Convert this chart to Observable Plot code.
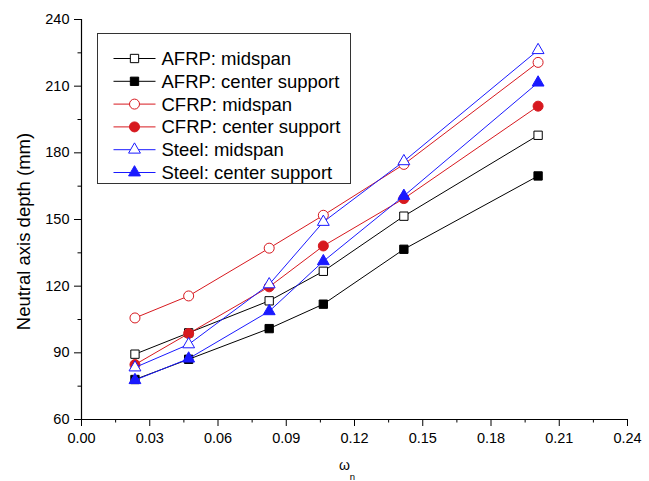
<!DOCTYPE html>
<html><head><meta charset="utf-8">
<script src="https://cdn.jsdelivr.net/npm/d3@7"></script>
<script src="https://cdn.jsdelivr.net/npm/@observablehq/plot@0.6"></script>
<style>body{margin:0;background:#fff;}</style>
</head><body><div id="chart"></div>
<script>
const omega = [0.0235, 0.0471, 0.0825, 0.1063, 0.1417, 0.2007];
const afrpMid = [89.4, 99.0, 113.4, 126.7, 151.5, 187.9];
const afrpCenter = [78.0, 87.1, 100.9, 111.9, 136.6, 169.6];
const cfrpMid = [105.7, 115.6, 137.1, 151.9, 174.8, 220.7];
const cfrpCenter = [84.7, 98.7, 119.7, 138.1, 159.4, 201.0];
const steelMid = [83.4, 93.8, 120.8, 148.9, 176.2, 226.2];
const steelCenter = [77.7, 87.4, 108.7, 131.2, 160.6, 211.6];

const seriesNames = ["AFRP: midspan", "AFRP: center support", "CFRP: midspan", "CFRP: center support", "Steel: midspan", "Steel: center support"];
const seriesValues = [afrpMid, afrpCenter, cfrpMid, cfrpCenter, steelMid, steelCenter];
const seriesColors = ["#000000", "#000000", "#d7191f", "#d7191f", "#1a1aff", "#1a1aff"];
const seriesSymbols = ["square", "square", "circle", "circle", "triangle", "triangle"];
const seriesFilled = [false, true, false, true, false, true];
const symbolR = {square: 4.7, circle: 5, triangle: 4.4};

const xMajor = [0, 0.03, 0.06, 0.09, 0.12, 0.15, 0.18, 0.21, 0.24];
const xMinor = [0.015, 0.045, 0.075, 0.105, 0.135, 0.165, 0.195, 0.225];
const yMajor = [60, 90, 120, 150, 180, 210, 240];
const yMinor = [75, 105, 135, 165, 195, 225];

const marks = [
  Plot.axisX({ticks: xMinor, tickSize: 3.5, tickFormat: () => "", label: null}),
  Plot.axisX({ticks: xMajor, tickSize: 7, tickPadding: 6, tickFormat: d3.format(".2f"), label: null}),
  Plot.axisY({ticks: yMinor, tickSize: 3.5, tickFormat: () => "", label: null}),
  Plot.axisY({ticks: yMajor, tickSize: 7, tickPadding: 5, tickFormat: d3.format("d"), label: null}),
  Plot.ruleX([0], {stroke: "black", strokeWidth: 1.2}),
  Plot.ruleY([60], {stroke: "black", strokeWidth: 1.2})
];
seriesValues.forEach((vals, i) => {
  const data = omega.map((w, j) => ({x: w, y: vals[j]}));
  marks.push(Plot.line(data, {x: "x", y: "y", stroke: seriesColors[i], strokeWidth: 1}));
  marks.push(Plot.dot(data, {
    x: "x", y: "y", symbol: seriesSymbols[i], r: symbolR[seriesSymbols[i]],
    fill: seriesFilled[i] ? seriesColors[i] : "white",
    stroke: seriesColors[i], strokeWidth: 1
  }));
});

const plot = Plot.plot({
  width: 649, height: 481,
  marginLeft: 81, marginRight: 22, marginTop: 19, marginBottom: 62,
  style: {fontFamily: "'Liberation Sans', Arial, sans-serif", fontSize: "14.5px", color: "black", background: "white", overflow: "visible"},
  x: {domain: [0, 0.24]},
  y: {domain: [60, 240]},
  marks
});
document.getElementById("chart").appendChild(plot);

const svg = d3.select(plot);
const xs = plot.scale("x"), ys = plot.scale("y");

// y-axis title
svg.append("text")
  .attr("transform", `translate(30,${(ys.apply(60) + ys.apply(240)) / 2 + 12.5}) rotate(-90)`)
  .attr("text-anchor", "middle")
  .attr("font-size", "18.5px")
  .attr("fill", "black")
  .text("Neutral axis depth (mm)");

// x-axis title: omega with subscript n
const xt = svg.append("g").attr("fill", "black");
const xc = xs.apply(0.12) - 9.5;
xt.append("text").attr("x", xc).attr("y", 469.5).attr("text-anchor", "middle").attr("font-size", "14px").text("ω");
xt.append("text").attr("x", xc + 8).attr("y", 480).attr("text-anchor", "middle").attr("font-size", "9.5px").text("n");

// legend
const lg = svg.append("g").attr("transform", "translate(97.5,33.5)");
lg.append("rect").attr("width", 253).attr("height", 150).attr("fill", "white").attr("stroke", "#333").attr("stroke-width", 1);
const symMap = {square: d3.symbolSquare, circle: d3.symbolCircle, triangle: d3.symbolTriangle};
seriesNames.forEach((name, i) => {
  const cy = 25 + i * 22.8;
  const row = lg.append("g").attr("transform", `translate(0,${cy})`);
  row.append("line").attr("x1", 16).attr("x2", 58).attr("y1", 0).attr("y2", 0).attr("stroke", seriesColors[i]).attr("stroke-width", 1);
  const r = symbolR[seriesSymbols[i]];
  row.append("path").attr("transform", "translate(37,0)")
    .attr("d", d3.symbol(symMap[seriesSymbols[i]], Math.PI * r * r)())
    .attr("fill", seriesFilled[i] ? seriesColors[i] : "white")
    .attr("stroke", seriesColors[i]).attr("stroke-width", 1);
  row.append("text").attr("x", 64).attr("y", 0).attr("dy", "0.35em")
    .attr("text-anchor", "start")
    .attr("font-size", "18.5px").attr("fill", "black").text(name);
});
</script>
</body></html>
